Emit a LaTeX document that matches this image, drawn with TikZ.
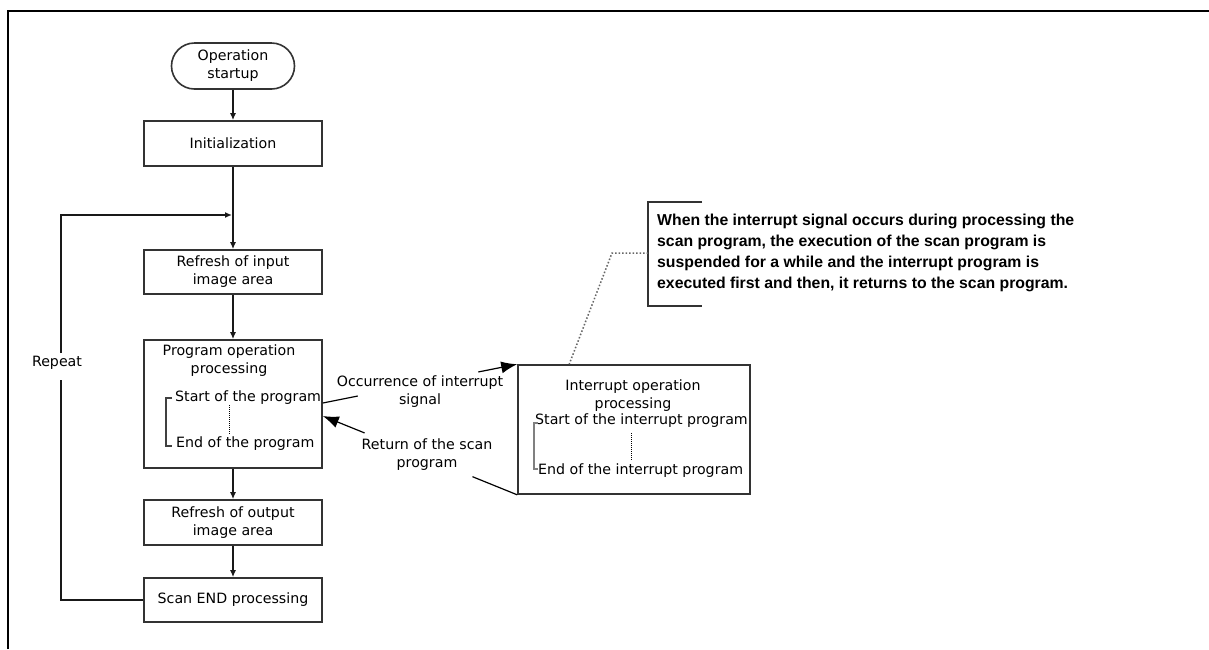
\documentclass[tikz,border=0pt]{standalone}
\usepackage{fontspec}
\setmainfont{DejaVu Sans}
\newfontfamily\annfont{Liberation Sans}
\usetikzlibrary{arrows.meta,calc}
\begin{document}
\begin{tikzpicture}[x=1pt,y=-1pt,
  box/.style={draw=black!80, line width=1.6pt, minimum width=178pt, inner sep=0pt,
    font=\fontsize{14.2}{18}\selectfont, align=center},
  txt/.style={inner sep=0pt, font=\fontsize{14.2}{18}\selectfont, align=center},
  conn/.style={line width=1.5pt, draw=black!90},
  flow/.style={conn, -{Latex[length=7pt,width=6pt]}},
  big/.style={line width=1.2pt, -{Latex[length=16pt,width=12pt]}},
  thin/.style={line width=1.2pt},
]
\useasboundingbox (0,0) rectangle (1209,649);
\fill[white] (0,0) rectangle (1209,649);
% frame
\draw[line width=1.6pt] (8,649) -- (8,11) -- (1209,11);

% main flow boxes
\node[box, rounded corners=23pt, minimum width=123pt, minimum height=46pt] (start) at (233,66) {Operation\\startup};
\node[box, minimum height=45pt] (init) at (233,143.5) {Initialization};
\node[box, minimum height=44pt] (rin) at (233,272) {Refresh of input\\image area};
\node[box, minimum height=128pt] (prog) at (233,404) {};
\node[box, minimum height=45pt] (rout) at (233,522.5) {Refresh of output\\image area};
\node[box, minimum height=44pt] (scan) at (233,600) {Scan END processing};
\node[box, minimum width=232pt, minimum height=129pt] (intr) at (634,429.5) {};

% program box content
\node[txt] (progt) at (229,360.5) {Program operation\\processing};
\node[txt, anchor=west] (ps) at (175,398) {Start of the program};
\node[txt, anchor=west] (pe) at (176,444) {End of the program};
\draw[line width=1.4pt, black!75] (172,398) -- (166,398) -- (166,446) -- (172,446);
\draw[densely dotted, line width=1pt] (229,405) -- (229,434);

% interrupt box content
\node[txt] (it) at (633,396) {Interrupt operation\\processing};
\node[txt, anchor=west] (is) at (535,421) {Start of the interrupt program};
\node[txt, anchor=west] (ie) at (538,471) {End of the interrupt program};
\draw[gray, line width=2.2pt] (538,423) -- (534,423) -- (534,469) -- (538,469);
\draw[densely dotted, line width=1pt] (631,433) -- (631,461);

% labels
\node[txt] (occ) at (420,392) {Occurrence of interrupt\\signal};
\node[txt] (ret) at (427,455) {Return of the scan\\program};
\node[txt] (rep) at (57,363) {Repeat};

% annotation
\node[inner sep=0pt, anchor=north west, align=left,
  font=\annfont\bfseries\fontsize{15.8}{21}\selectfont] (ann) at (657,214)
  {When the interrupt signal occurs during processing the\\
   scan program, the execution of the scan program is\\
   suspended for a while and the interrupt program is\\
   executed first and then, it returns to the scan program.};
\draw[line width=2.2pt, black!80] (702,202) -- (648,202) -- (648,306) -- (702,306);
\coordinate (anl) at (648,253);
\coordinate (ank) at (612,253);
\coordinate (ani) at ($(intr.north west)+(52,0)$);
\draw[dotted, gray!80!black, line width=1.5pt] (anl) -- (ank) -- (ani);

% flow connectors
\draw[flow] (start) -- (init);
\draw[flow] (init) -- (rin);
\draw[flow] (rin) -- (prog);
\draw[flow] (prog) -- (rout);
\draw[flow] (rout) -- (scan);

% repeat loop
\coordinate (rb) at (61,380);
\coordinate (rt) at (61,353);
\coordinate (lp) at (232,215);
\draw[conn] (scan.west) -| (rb);
\draw[conn, -{Latex[length=7pt,width=6pt]}] (rt) -- (rt |- lp) -- (lp);

% interrupt arrows
\coordinate (o1) at ($(prog.east)+(0,-1)$);
\coordinate (o2) at (intr.north west);
\draw[thin] (o1) -- ($(o1)!0.18!(o2)$);
\draw[big] ($(o1)!0.8!(o2)$) -- (o2);
\coordinate (r1) at (intr.south west);
\coordinate (r2) at ($(prog.east)+(0,12)$);
\draw[thin] (r1) -- ($(r1)!0.23!(r2)$);
\draw[big] ($(r1)!0.785!(r2)$) -- (r2);
\end{tikzpicture}
\end{document}
